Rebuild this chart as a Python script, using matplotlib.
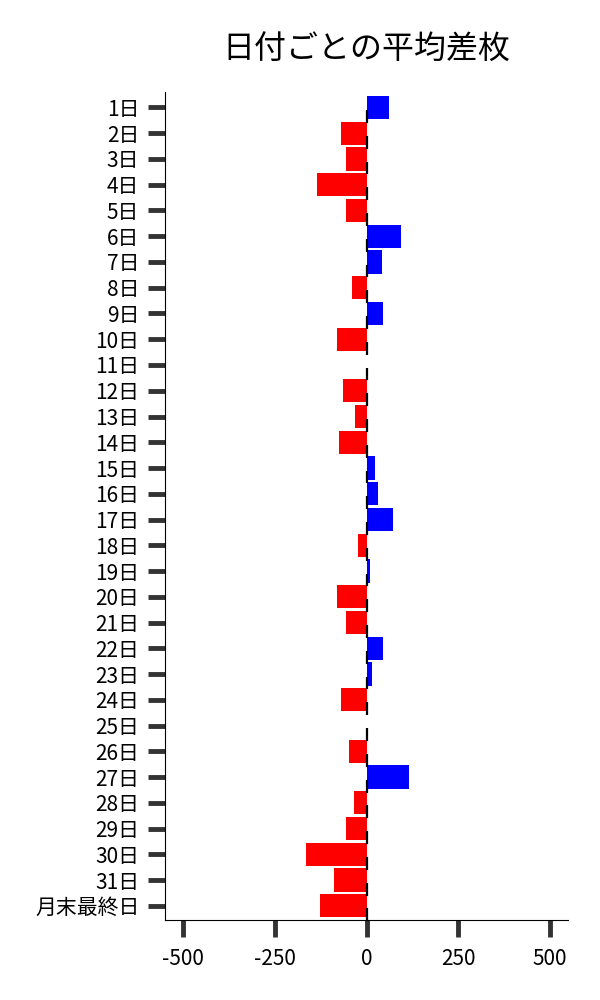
import matplotlib
matplotlib.use("Agg")
import matplotlib.pyplot as plt

plt.rcParams['font.family'] = ['Noto Sans CJK JP', 'DejaVu Sans']

days = [f"{i}日" for i in range(1, 32)] + ["月末最終日"]
diffs = [60, -71, -57, -136, -57, 95, 41, -41, 44, -82,
         0, -65, -33, -76, 24, 30, 73, -24, 8, -82,
         -57, 44, 15, -70, 2, -49, 115, -35, -56, -165,
         -89, -127]


def main():
    fig = plt.figure(figsize=(6, 10), dpi=100)
    ax = fig.add_axes([0.275, 0.08, 0.672, 0.828])

    pos = list(range(len(days)))
    colors = ['#0000ff' if v > 0 else '#ff0000' for v in diffs]
    ax.barh(pos, diffs, height=0.9, color=colors, zorder=2)

    # little black marks at zero
    ax.vlines([0] * len(pos), [p + 0.1 for p in pos], [p + 0.6 for p in pos],
              color='black', linewidth=1.6, zorder=3)

    ax.set_yticks(pos)
    ax.set_yticklabels(days)
    ax.set_ylim(31.55, -0.6)
    ax.set_xlim(-550, 550)
    ax.set_xticks([-500, -250, 0, 250, 500])
    ax.set_xticklabels(['-500', '-250', '0', '250', '500'])

    ax.spines['top'].set_visible(False)
    ax.spines['right'].set_visible(False)
    ax.tick_params(axis='both', length=12.5, width=3.5, color='#333333',
                   labelsize=15, pad=6)
    ax.tick_params(axis='x', pad=8)

    ax.set_title('日付ごとの平均差枚', fontsize=23, pad=24)

    fig.savefig('out.png', dpi=100)


if __name__ == "__main__":
    main()
